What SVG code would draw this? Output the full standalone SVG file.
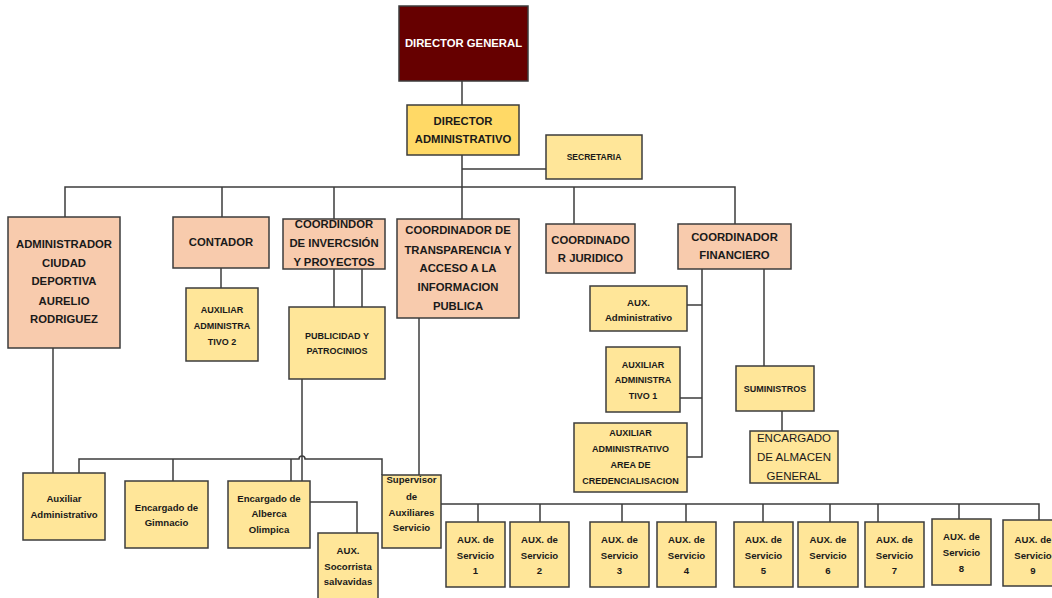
<svg xmlns="http://www.w3.org/2000/svg" width="1052" height="598" viewBox="0 0 1052 598">
<style>
.b{stroke:#3c3c3c;stroke-width:1.5}
.dg{fill:#660000}
.da{fill:#FFD966}
.o{fill:#F8CBAD}
.y{fill:#FFE699}
text{font-family:"Liberation Sans",Arial,sans-serif;font-weight:bold;fill:#1a1a1a;text-anchor:middle}
.t12{font-size:11.3px}
.t10{font-size:9.6px}
.t9{font-size:9px}
.w{fill:#ffffff}
.r{font-weight:normal;font-size:11.5px}
.c{fill:none;stroke:#3c3c3c;stroke-width:1.5}
</style>
<rect width="1052" height="598" fill="#ffffff"/>
<g id="connectors">
<path class="c" d="M462 81V105"/>
<path class="c" d="M462 155V187M462 169H546"/>
<path class="c" d="M65 217V187H735V224M222 187V217M334 187V219M462 187V219M574 187V224"/>
<path class="c" d="M221 259V288"/>
<path class="c" d="M334 269V307M362 269V307"/>
<path class="c" d="M53 348V473"/>
<path class="c" d="M302 379V481"/>
<path class="c" d="M79 473V459H299A3 3 0 0 1 305 459H382V475M173 459V481M291 459V481"/>
<path class="c" d="M310 502H357V533"/>
<path class="c" d="M419 318V475"/>
<path class="c" d="M441 504H1039V520M478 504V522M540 504V522M622 504V522M686 504V522M763 504V522M830 504V522M878 504V522M959 504V519"/>
<path class="c" d="M702 269V457H686M702 305H687M702 398H680"/>
<path class="c" d="M764 269V366"/>
<path class="c" d="M782 411V431"/>
</g>
<g id="director-general"><rect class="b dg" x="399" y="6" width="129" height="75"/><text class="t12 w" x="463.5" y="47">DIRECTOR GENERAL</text></g>
<g id="director-administrativo"><rect class="b da" x="407" y="105" width="112" height="50"/><text class="t12" x="463" y="125">DIRECTOR</text><text class="t12" x="463" y="143">ADMINISTRATIVO</text></g>
<g id="secretaria"><rect class="b y" x="546" y="135" width="96" height="44"/><text class="t9" x="594" y="160" style="font-size:8.5px">SECRETARIA</text></g>
<g id="administrador"><rect class="b o" x="8" y="217" width="112" height="131"/><text class="t12" x="64" y="248">ADMINISTRADOR</text><text class="t12" x="64" y="267">CIUDAD</text><text class="t12" x="64" y="285">DEPORTIVA</text><text class="t12" x="64" y="305">AURELIO</text><text class="t12" x="64" y="323">RODRIGUEZ</text></g>
<g id="contador"><rect class="b o" x="173" y="217" width="96" height="51"/><text class="t12" x="221" y="246">CONTADOR</text></g>
<g id="auxiliar-administrativo-2"><rect class="b y" x="186" y="288" width="72" height="73"/><text class="t9" x="222" y="312.5">AUXILIAR</text><text class="t9" x="222" y="328.5">ADMINISTRA</text><text class="t9" x="222" y="344.5">TIVO 2</text></g>
<g id="coordinador-inversion"><rect class="b o" x="283" y="219" width="102" height="50"/><text class="t12" x="334" y="228">COORDINDOR</text><text class="t12" x="334" y="247">DE INVERCSIÓN</text><text class="t12" x="334" y="266">Y PROYECTOS</text></g>
<g id="publicidad"><rect class="b y" x="289" y="307" width="96" height="72"/><text class="t9" x="337" y="339">PUBLICIDAD Y</text><text class="t9" x="337" y="354">PATROCINIOS</text></g>
<g id="coordinador-transparencia"><rect class="b o" x="397" y="219" width="122" height="99"/><text class="t12" x="458" y="234">COORDINADOR DE</text><text class="t12" x="458" y="254">TRANSPARENCIA Y</text><text class="t12" x="458" y="272">ACCESO A LA</text><text class="t12" x="458" y="291">INFORMACION</text><text class="t12" x="458" y="310">PUBLICA</text></g>
<g id="coordinador-juridico"><rect class="b o" x="546" y="224" width="89" height="49"/><text class="t12" x="590.5" y="244">COORDINADO</text><text class="t12" x="590.5" y="262">R JURIDICO</text></g>
<g id="coordinador-financiero"><rect class="b o" x="678" y="224" width="113" height="45"/><text class="t12" x="734.5" y="241">COORDINADOR</text><text class="t12" x="734.5" y="259">FINANCIERO</text></g>
<g id="aux-administrativo"><rect class="b y" x="590" y="286" width="97" height="45"/><text class="t10" x="638.5" y="305.5">AUX.</text><text class="t10" x="638.5" y="320.5">Administrativo</text></g>
<g id="auxiliar-administrativo-1"><rect class="b y" x="606" y="347" width="74" height="65"/><text class="t9" x="643" y="367.5">AUXILIAR</text><text class="t9" x="643" y="382.5">ADMINISTRA</text><text class="t9" x="643" y="398.5">TIVO 1</text></g>
<g id="auxiliar-credencialisacion"><rect class="b y" x="574" y="423" width="113" height="69"/><text class="t9" x="630.5" y="436">AUXILIAR</text><text class="t9" x="630.5" y="452">ADMINISTRATIVO</text><text class="t9" x="630.5" y="468">AREA DE</text><text class="t9" x="630.5" y="484">CREDENCIALISACION</text></g>
<g id="suministros"><rect class="b y" x="736" y="366" width="78" height="45"/><text class="t9" x="775" y="392">SUMINISTROS</text></g>
<g id="encargado-almacen"><rect class="b y" x="750" y="431" width="88" height="52"/><text class="r" x="794" y="442">ENCARGADO</text><text class="r" x="794" y="461">DE ALMACEN</text><text class="r" x="794" y="480">GENERAL</text></g>
<g id="auxiliar-administrativo-bottom"><rect class="b y" x="23" y="473" width="82" height="67"/><text class="t10" x="64" y="501.5">Auxiliar</text><text class="t10" x="64" y="517.5">Administrativo</text></g>
<g id="encargado-gimnacio"><rect class="b y" x="125" y="481" width="83" height="67"/><text class="t10" x="166.5" y="510.5">Encargado de</text><text class="t10" x="166.5" y="525.5">Gimnacio</text></g>
<g id="encargado-alberca"><rect class="b y" x="228" y="481" width="82" height="67"/><text class="t10" x="269" y="501.5">Encargado de</text><text class="t10" x="269" y="516.5">Alberca</text><text class="t10" x="269" y="532.5">Olimpica</text></g>
<g id="aux-socorrista"><rect class="b y" x="318" y="533" width="60" height="70"/><text class="t10" x="348" y="553.5">AUX.</text><text class="t10" x="348" y="569.5">Socorrista</text><text class="t10" x="348" y="584.5">salvavidas</text></g>
<g id="supervisor"><rect class="b y" x="382" y="475" width="59" height="73"/><text class="t10" x="411.5" y="482.5">Supervisor</text><text class="t10" x="411.5" y="499.5">de</text><text class="t10" x="411.5" y="515.5">Auxiliares</text><text class="t10" x="411.5" y="530.5">Servicio</text></g>
<g id="aux-servicio-1"><rect class="b y" x="446" y="522" width="59" height="65"/><text class="t10" x="475.5" y="542.5">AUX. de</text><text class="t10" x="475.5" y="558.5">Servicio</text><text class="t10" x="475.5" y="573.5">1</text></g>
<g id="aux-servicio-2"><rect class="b y" x="510" y="522" width="59" height="65"/><text class="t10" x="539.5" y="542.5">AUX. de</text><text class="t10" x="539.5" y="558.5">Servicio</text><text class="t10" x="539.5" y="573.5">2</text></g>
<g id="aux-servicio-3"><rect class="b y" x="590" y="522" width="59" height="65"/><text class="t10" x="619.5" y="542.5">AUX. de</text><text class="t10" x="619.5" y="558.5">Servicio</text><text class="t10" x="619.5" y="573.5">3</text></g>
<g id="aux-servicio-4"><rect class="b y" x="657" y="522" width="59" height="65"/><text class="t10" x="686.5" y="542.5">AUX. de</text><text class="t10" x="686.5" y="558.5">Servicio</text><text class="t10" x="686.5" y="573.5">4</text></g>
<g id="aux-servicio-5"><rect class="b y" x="734" y="522" width="59" height="65"/><text class="t10" x="763.5" y="542.5">AUX. de</text><text class="t10" x="763.5" y="558.5">Servicio</text><text class="t10" x="763.5" y="573.5">5</text></g>
<g id="aux-servicio-6"><rect class="b y" x="798" y="522" width="60" height="65"/><text class="t10" x="828" y="542.5">AUX. de</text><text class="t10" x="828" y="558.5">Servicio</text><text class="t10" x="828" y="573.5">6</text></g>
<g id="aux-servicio-7"><rect class="b y" x="865" y="522" width="59" height="65"/><text class="t10" x="894.5" y="542.5">AUX. de</text><text class="t10" x="894.5" y="558.5">Servicio</text><text class="t10" x="894.5" y="573.5">7</text></g>
<g id="aux-servicio-8"><rect class="b y" x="932" y="519" width="59" height="66"/><text class="t10" x="961.5" y="539.5">AUX. de</text><text class="t10" x="961.5" y="555.5">Servicio</text><text class="t10" x="961.5" y="571.5">8</text></g>
<g id="aux-servicio-9"><rect class="b y" x="1003" y="520" width="60" height="66"/><text class="t10" x="1033" y="542.5">AUX. de</text><text class="t10" x="1033" y="558.5">Servicio</text><text class="t10" x="1033" y="573.5">9</text></g>
</svg>
